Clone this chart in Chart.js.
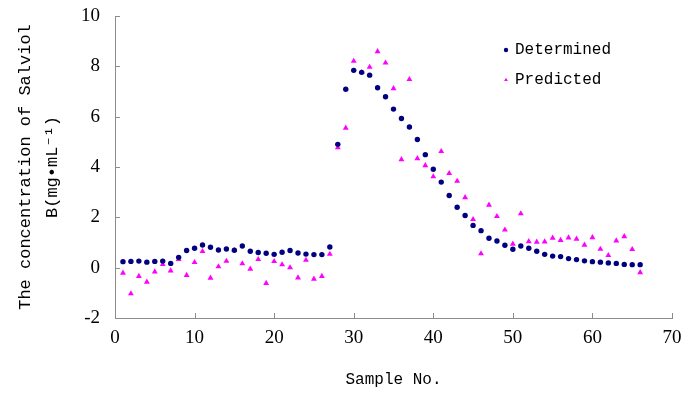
<!DOCTYPE html>
<html>
<head>
<meta charset="utf-8">
<script src="https://cdn.jsdelivr.net/npm/chart.js@4.4.1/dist/chart.umd.min.js"></script>
<style>
  html, body { margin: 0; padding: 0; background: #fff; }
  #wrap { width: 700px; height: 398px; }
</style>
</head>
<body>
<div id="wrap"><canvas id="salviolChart" width="700" height="398"></canvas></div>
<script>
// sample numbers
const sampleNo = [1, 2, 3, 4, 5, 6, 7, 8, 9, 10, 11, 12, 13, 14, 15, 16, 17, 18, 19, 20,
    21, 22, 23, 24, 25, 26, 27, 28, 29, 30, 31, 32, 33, 34, 35, 36, 37, 38, 39, 40,
    41, 42, 43, 44, 45, 46, 47, 48, 49, 50, 51, 52, 53, 54, 55, 56, 57, 58, 59, 60,
    61, 62, 63, 64, 65, 66];

// measured concentration
const determined = [0.24, 0.25, 0.26, 0.22, 0.25, 0.26, 0.17, 0.41, 0.68, 0.77,
    0.90, 0.81, 0.70, 0.74, 0.69, 0.86, 0.65, 0.60, 0.57, 0.53,
    0.61, 0.68, 0.58, 0.54, 0.52, 0.52, 0.82, 4.90, 7.09, 7.84,
    7.76, 7.65, 7.15, 6.79, 6.30, 5.93, 5.59, 5.09, 4.49, 3.91,
    3.40, 2.87, 2.40, 2.07, 1.68, 1.47, 1.17, 1.06, 0.89, 0.73,
    0.86, 0.77, 0.65, 0.53, 0.46, 0.44, 0.36, 0.32, 0.27, 0.24,
    0.22, 0.19, 0.17, 0.13, 0.12, 0.12];

// model prediction
const predicted = [-0.21, -1.03, -0.34, -0.57, -0.16, 0.13, -0.12, 0.33, -0.30, 0.21,
    0.65, -0.41, 0.04, 0.26, 0.69, 0.16, -0.05, 0.33, -0.62, 0.25,
    0.12, 0.00, -0.40, 0.30, -0.45, -0.34, 0.54, 4.77, 5.55, 8.21,
    7.76, 7.97, 8.59, 8.14, 7.12, 4.30, 7.48, 4.34, 4.06, 3.62,
    4.62, 3.75, 3.44, 2.79, 1.92, 0.56, 2.49, 2.04, 1.50, 0.94,
    2.15, 1.04, 1.02, 1.03, 1.18, 1.09, 1.19, 1.14, 0.90, 1.20,
    0.74, 0.49, 1.07, 1.24, 0.73, -0.19];

const xTicks = [0, 10, 20, 30, 40, 50, 60, 70];
const yTicks = [-2, 0, 2, 4, 6, 8, 10];

const FONT = "'Liberation Mono', 'DejaVu Sans Mono', monospace";
const TICK_FONT = "'Liberation Serif', 'DejaVu Serif', serif";
const AXIS_GREY = '#8c8c8c';

const toPoints = (vals) => vals.map((v, i) => ({ x: sampleNo[i], y: v }));

// short tick marks pointing into the plot, like the original
const innerTicks = {
    id: 'innerTicks',
    afterDraw(chart) {
        const { ctx, chartArea, scales } = chart;
        ctx.save();
        ctx.strokeStyle = AXIS_GREY;
        ctx.lineWidth = 1;
        ctx.beginPath();
        yTicks.forEach(v => {
            const y = Math.round(scales.y.getPixelForValue(v)) + 0.5;
            ctx.moveTo(chartArea.left, y);
            ctx.lineTo(chartArea.left + 5, y);
        });
        xTicks.forEach(v => {
            const x = Math.round(scales.x.getPixelForValue(v)) + 0.5;
            ctx.moveTo(x, chartArea.bottom);
            ctx.lineTo(x, chartArea.bottom - 5);
        });
        ctx.stroke();
        ctx.restore();
    }
};

// legend sits inside the plot, top right
const innerLegend = {
    id: 'innerLegend',
    afterDraw(chart) {
        const { ctx } = chart;
        const x0 = 506, y0 = 50, gap = 30;
        ctx.save();
        chart.data.datasets.forEach((ds, i) => {
            const y = y0 + i * gap;
            ctx.fillStyle = ds.backgroundColor;
            ctx.strokeStyle = ds.borderColor;
            Chart.helpers.drawPoint(ctx, { pointStyle: ds.pointStyle, radius: 2.2, borderWidth: 0 }, x0, y);
            ctx.fillStyle = '#000';
            ctx.font = '16px ' + FONT;
            ctx.textBaseline = 'middle';
            ctx.textAlign = 'left';
            ctx.fillText(ds.label, x0 + 9, y);
        });
        ctx.restore();
    }
};

new Chart(document.getElementById('salviolChart'), {
    type: 'scatter',
    data: {
        datasets: [
            {
                label: 'Determined',
                data: toPoints(determined),
                pointStyle: 'circle',
                pointRadius: 2.7,
                pointBorderWidth: 0,
                backgroundColor: '#000080',
                borderColor: '#000080'
            },
            {
                label: 'Predicted',
                data: toPoints(predicted),
                pointStyle: 'triangle',
                pointRadius: 3.4,
                pointBorderWidth: 0,
                backgroundColor: '#ff00ff',
                borderColor: '#ff00ff'
            }
        ]
    },
    options: {
        responsive: false,
        animation: false,
        layout: { padding: { left: 0, right: 28, top: 16, bottom: 0 } },
        plugins: {
            legend: { display: false },
            tooltip: { enabled: false }
        },
        scales: {
            x: {
                type: 'linear',
                min: 0,
                max: 70,
                afterFit: (s) => { s.height = 80; s.paddingLeft = 0; s.paddingRight = 0; },
                afterBuildTicks: (s) => { s.ticks = xTicks.map(v => ({ value: v })); },
                grid: { display: true, drawOnChartArea: false, drawTicks: false },
                border: { display: true, color: AXIS_GREY, width: 1 },
                ticks: { color: '#000', padding: 9, font: { family: TICK_FONT, size: 19 } },
                title: {
                    display: true,
                    text: 'Sample No.',
                    color: '#000',
                    padding: { top: 4, bottom: 9 },
                    font: { family: FONT, size: 16 }
                }
            },
            y: {
                type: 'linear',
                min: -2,
                max: 10,
                afterFit: (s) => { s.width = 115; s.paddingTop = 0; s.paddingBottom = 0; },
                afterBuildTicks: (s) => { s.ticks = yTicks.map(v => ({ value: v })); },
                grid: { display: true, drawOnChartArea: false, drawTicks: false },
                border: { display: true, color: AXIS_GREY, width: 1 },
                ticks: { color: '#000', padding: 15, font: { family: TICK_FONT, size: 19 } },
                title: {
                    display: true,
                    text: ['The concentration of Salviol', 'B(mg\u2022mL\u207B\u00B9)'],
                    color: '#000',
                    padding: { top: 12, bottom: 0 },
                    font: { family: FONT, size: 17, lineHeight: 1.6 }
                }
            }
        }
    },
    plugins: [innerTicks, innerLegend]
});
</script>
</body>
</html>
